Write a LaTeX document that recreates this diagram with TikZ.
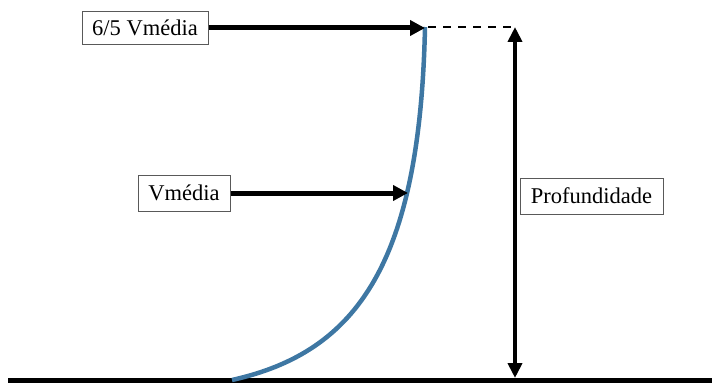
\documentclass[tikz,border=0pt]{standalone}
\usepackage{fontspec}
\setmainfont{Liberation Serif}
\usetikzlibrary{arrows.meta}
\definecolor{curveblue}{HTML}{3E77A3}
\tikzset{
  lbl/.style={draw=black!65, line width=1pt, fill=white, inner sep=0pt, font=\fontsize{22.5}{26}\selectfont},
  bigarrow/.style={line width=5pt, -{Triangle[length=15pt,width=15pt]}},
  deptharrow/.style={line width=4pt, {Triangle[length=15pt,width=14pt]}-{Triangle[length=15pt,width=14pt]}},
}
\begin{document}
\begin{tikzpicture}[x=1pt,y=-1pt]
\useasboundingbox (0,0) rectangle (712,385);
% ground
\coordinate (g1) at (8,380);
\coordinate (g2) at (712,380);
\draw[line width=5pt] (g1) -- (g2);
% velocity profile
\draw[curveblue, line width=4.5pt, line cap=butt] (425,27) .. controls (420,262) and (358,352) .. (232,380);
% labels
\node[lbl, minimum width=126pt, minimum height=33pt] (top) at (145,28) {6/5 Vmédia};
\node[lbl, minimum width=92pt, minimum height=36pt] (mid) at (184,193) {Vmédia};
\node[lbl, minimum width=143pt, minimum height=36pt] (prof) at (591.5,196) {Profundidade};
% arrow targets
\coordinate (ttop) at (425,28);
\coordinate (tmid) at (408,193);
\coordinate (dtop) at (515,27);
\coordinate (dbot) at (515,378);
\coordinate (dstart) at (428,27);
\draw[bigarrow] (top.east) -- (ttop);
\draw[bigarrow] (mid.east) -- (tmid);
\draw[line width=2pt, dash pattern=on 8pt off 7pt] (dstart) -- (dtop);
\draw[deptharrow] (dtop) -- (dbot);
\end{tikzpicture}
\end{document}
